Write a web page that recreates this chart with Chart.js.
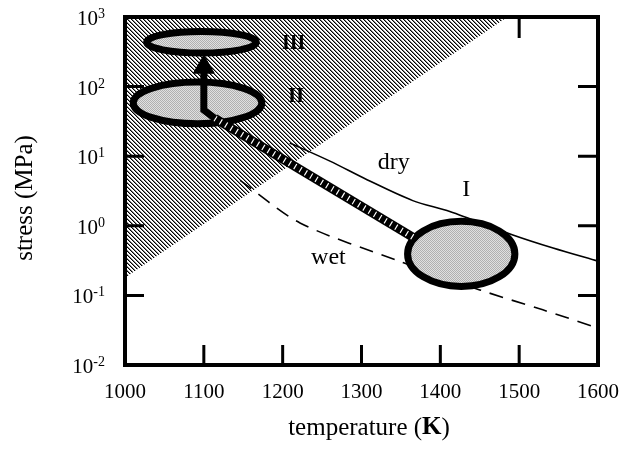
<!DOCTYPE html>
<html>
<head>
<meta charset="utf-8">
<script src="https://cdn.jsdelivr.net/npm/chart.js@4/dist/chart.umd.min.js"></script>
<style>
  html, body { margin: 0; padding: 0; background: #fff; }
</style>
</head>
<body>
<canvas id="c" width="622" height="455"></canvas>
<script>
// axis ticks
var xTicks = [1000, 1100, 1200, 1300, 1400, 1500, 1600];
var yExponents = [-2, -1, 0, 1, 2, 3];
var innerX = [1100, 1200, 1300, 1400, 1500];
var innerY = [0.1, 1, 10, 100];
var innerTop = [1500];

// hatched (forbidden) zone boundary
var hatchTemp = [1000, 1485];
var hatchStress = [0.18, 1000];

// dry and wet curves
var dryTemp = [1209, 1260, 1307, 1365, 1412, 1492, 1543, 1600];
var dryStress = [15.5, 8.5, 4.6, 2.3, 1.6, 0.74, 0.48, 0.31];
var wetTemp = [1146, 1222, 1345, 1450, 1530, 1600];
var wetStress = [4.5, 1.1, 0.32, 0.12, 0.062, 0.034];

// path from I to II, then arrow up to III
var pathTemp = [1365, 1114];
var pathStress = [0.69, 35];
var arrowTemp = [1114, 1100, 1100];
var arrowStress = [35, 46, 190];

// regions I, II, III (extent of each ellipse)
var regionNames = ['I', 'II', 'III'];
var regionTempMin = [1354, 1006, 1023];
var regionTempMax = [1499, 1178, 1171];
var regionStressMin = [0.12, 26, 270];
var regionStressMax = [1.3, 131, 695];

// text notes
var noteText = ['dry', 'wet', 'I', 'II', 'III'];
var noteTemp = [1341, 1258, 1433, 1217, 1214];
var noteStress = [8.0, 0.35, 3.3, 71, 410];

function pts(xs, ys) {
  return xs.map(function(v, i){ return {x: v, y: ys[i]}; });
}

// hatch pattern: "\\\" stripes
function makeHatch() {
  var c = document.createElement('canvas');
  c.width = 4; c.height = 4;
  var g = c.getContext('2d');
  var img = g.createImageData(4, 4);
  var shades = [0, 130, 255, 255];
  for (var y = 0; y < 4; y++) {
    for (var x = 0; x < 4; x++) {
      var k = ((x - y) % 4 + 4) % 4, p = (y * 4 + x) * 4;
      img.data[p] = img.data[p+1] = img.data[p+2] = shades[k];
      img.data[p+3] = 255;
    }
  }
  g.putImageData(img, 0, 0);
  return g.createPattern(c, 'repeat');
}
function makeGray() {
  var c = document.createElement('canvas');
  c.width = 2; c.height = 2;
  var g = c.getContext('2d');
  g.fillStyle = '#e0e0e0'; g.fillRect(0, 0, 2, 2);
  g.fillStyle = '#b0b0b0'; g.fillRect(0, 0, 1, 1); g.fillRect(1, 1, 1, 1);
  return g.createPattern(c, 'repeat');
}
var hatch = makeHatch();
var grayFill = makeGray();
var serif = "'Liberation Serif', 'Times New Roman', serif";

var decor = {
  id: 'decor',
  afterDatasetDraw: function(chart, args) {
    if (chart.data.datasets[args.index].id !== 'wet') return;
    var xs = chart.scales.x, ys = chart.scales.y, ctx = chart.ctx;
    ctx.save();
    regionNames.forEach(function(n, i){
      var x0 = xs.getPixelForValue(regionTempMin[i]), x1 = xs.getPixelForValue(regionTempMax[i]);
      var y0 = ys.getPixelForValue(regionStressMax[i]), y1 = ys.getPixelForValue(regionStressMin[i]);
      ctx.beginPath();
      ctx.ellipse((x0 + x1) / 2, (y0 + y1) / 2, (x1 - x0) / 2 - 3.5, (y1 - y0) / 2 - 3.5, 0, 0, Math.PI * 2);
      ctx.fillStyle = grayFill;
      ctx.fill();
      ctx.lineWidth = 7;
      ctx.strokeStyle = '#000';
      ctx.stroke();
    });
    ctx.restore();
  },
  afterDraw: function(chart) {
    var xs = chart.scales.x, ys = chart.scales.y, ctx = chart.ctx, a = chart.chartArea;
    ctx.save();
    ctx.strokeStyle = '#000';
    ctx.fillStyle = '#000';
    // frame
    ctx.lineWidth = 4;
    ctx.strokeRect(a.left, a.top, a.right - a.left, a.bottom - a.top);
    // inner ticks
    ctx.lineWidth = 3;
    ctx.beginPath();
    innerX.forEach(function(v){
      var px = xs.getPixelForValue(v);
      ctx.moveTo(px, a.bottom); ctx.lineTo(px, a.bottom - 20);
    });
    innerTop.forEach(function(v){
      var px = xs.getPixelForValue(v);
      ctx.moveTo(px, a.top); ctx.lineTo(px, a.top + 21);
    });
    innerY.forEach(function(v){
      var py = ys.getPixelForValue(v);
      ctx.moveTo(a.left, py); ctx.lineTo(a.left + 19, py);
      ctx.moveTo(a.right, py); ctx.lineTo(a.right - 20, py);
    });
    ctx.stroke();

    // y tick labels 10^n
    yExponents.forEach(function(e){
      var py = ys.getPixelForValue(Math.pow(10, e));
      var sup = e < 0 ? '-' + (-e) : String(e);
      ctx.font = '14px ' + serif;
      var sw = ctx.measureText(sup).width;
      ctx.font = '21px ' + serif;
      var bw = ctx.measureText('10').width;
      var right = a.left - 20;
      ctx.textAlign = 'left';
      ctx.textBaseline = 'alphabetic';
      ctx.fillText('10', right - sw - bw, py + 8);
      ctx.font = '14px ' + serif;
      ctx.fillText(sup, right - sw, py + 1);
    });

    // notes
    noteText.forEach(function(t, i){
      var px = xs.getPixelForValue(noteTemp[i]), py = ys.getPixelForValue(noteStress[i]);
      var f = '24px ' + serif;
      if (t === 'II') f = 'bold 21px ' + serif;
      if (t === 'III') f = 'bold 20px ' + serif;
      ctx.font = f;
      ctx.textAlign = 'center';
      ctx.textBaseline = 'middle';
      ctx.fillText(t, px, py);
    });

    // axis titles
    ctx.textBaseline = 'middle';
    ctx.font = '25px ' + serif;
    var t1 = 'temperature (', t3 = ')';
    var w1 = ctx.measureText(t1).width, w3 = ctx.measureText(t3).width;
    ctx.font = 'bold 25px ' + serif;
    var w2 = ctx.measureText('K').width;
    var sx = 369 - (w1 + w2 + w3) / 2;
    ctx.textAlign = 'left';
    ctx.font = '25px ' + serif;
    ctx.fillText(t1, sx, 428);
    ctx.font = 'bold 25px ' + serif;
    ctx.fillText('K', sx + w1, 428);
    ctx.font = '25px ' + serif;
    ctx.fillText(t3, sx + w1 + w2, 428);

    ctx.translate(25, 198);
    ctx.rotate(-Math.PI / 2);
    ctx.textAlign = 'center';
    ctx.fillText('stress (MPa)', 0, 0);
    ctx.restore();
  }
};

var chart = new Chart(document.getElementById('c'), {
  type: 'line',
  data: {
    datasets: [
      { id: 'hatch', data: pts(hatchTemp, hatchStress), fill: 'end', backgroundColor: hatch,
        borderWidth: 0, pointRadius: 0, order: 9 },
      { id: 'dry', data: pts(dryTemp, dryStress), borderColor: '#000', borderWidth: 1.6,
        pointRadius: 0, fill: false, tension: 0.3, order: 8 },
      { id: 'wet', data: pts(wetTemp, wetStress), borderColor: '#000', borderWidth: 1.6,
        borderDash: [14, 9], pointRadius: 0, fill: false, tension: 0.3, order: 7 },
      { id: 'pathBlack', data: pts(pathTemp, pathStress), borderColor: '#000', borderWidth: 9,
        pointRadius: 0, fill: false, order: 5 },
      { id: 'pathWhite', data: pts(pathTemp, pathStress), borderColor: '#fff', borderWidth: 6,
        borderDash: [1.2, 5], pointRadius: 0, fill: false, order: 4 },
      { id: 'arrow', data: pts(arrowTemp, arrowStress), borderColor: '#000', borderWidth: 7,
        pointRadius: 0, fill: false, order: 3 },
      { id: 'head', data: pts(arrowTemp.slice(-1), arrowStress.slice(-1)), showLine: false,
        pointStyle: 'triangle', pointRadius: 12, backgroundColor: '#000', borderColor: '#000',
        borderWidth: 1, order: 2 }
    ]
  },
  options: {
    responsive: false,
    animation: false,
    devicePixelRatio: 1,
    layout: { padding: { top: 17, right: 24, left: 0, bottom: 0 } },
    plugins: { legend: { display: false }, tooltip: { enabled: false } },
    scales: {
      x: {
        type: 'linear', min: 1000, max: 1600,
        grid: { display: false, drawTicks: false },
        border: { display: false },
        afterBuildTicks: function(s){ s.ticks = xTicks.map(function(v){ return {value: v}; }); },
        afterFit: function(s){ s.height = 90; s.paddingLeft = 0; s.paddingRight = 0; },
        ticks: { color: '#000', font: { family: serif, size: 21 }, padding: 15,
                 maxRotation: 0, autoSkip: false,
                 callback: function(v){ return String(v); } }
      },
      y: {
        type: 'logarithmic', min: 0.01, max: 1000,
        grid: { display: false, drawTicks: false },
        border: { display: false },
        afterFit: function(s){ s.width = 125; s.paddingTop = 0; s.paddingBottom = 0; },
        ticks: { display: false }
      }
    }
  },
  plugins: [decor]
});
</script>
</body>
</html>
